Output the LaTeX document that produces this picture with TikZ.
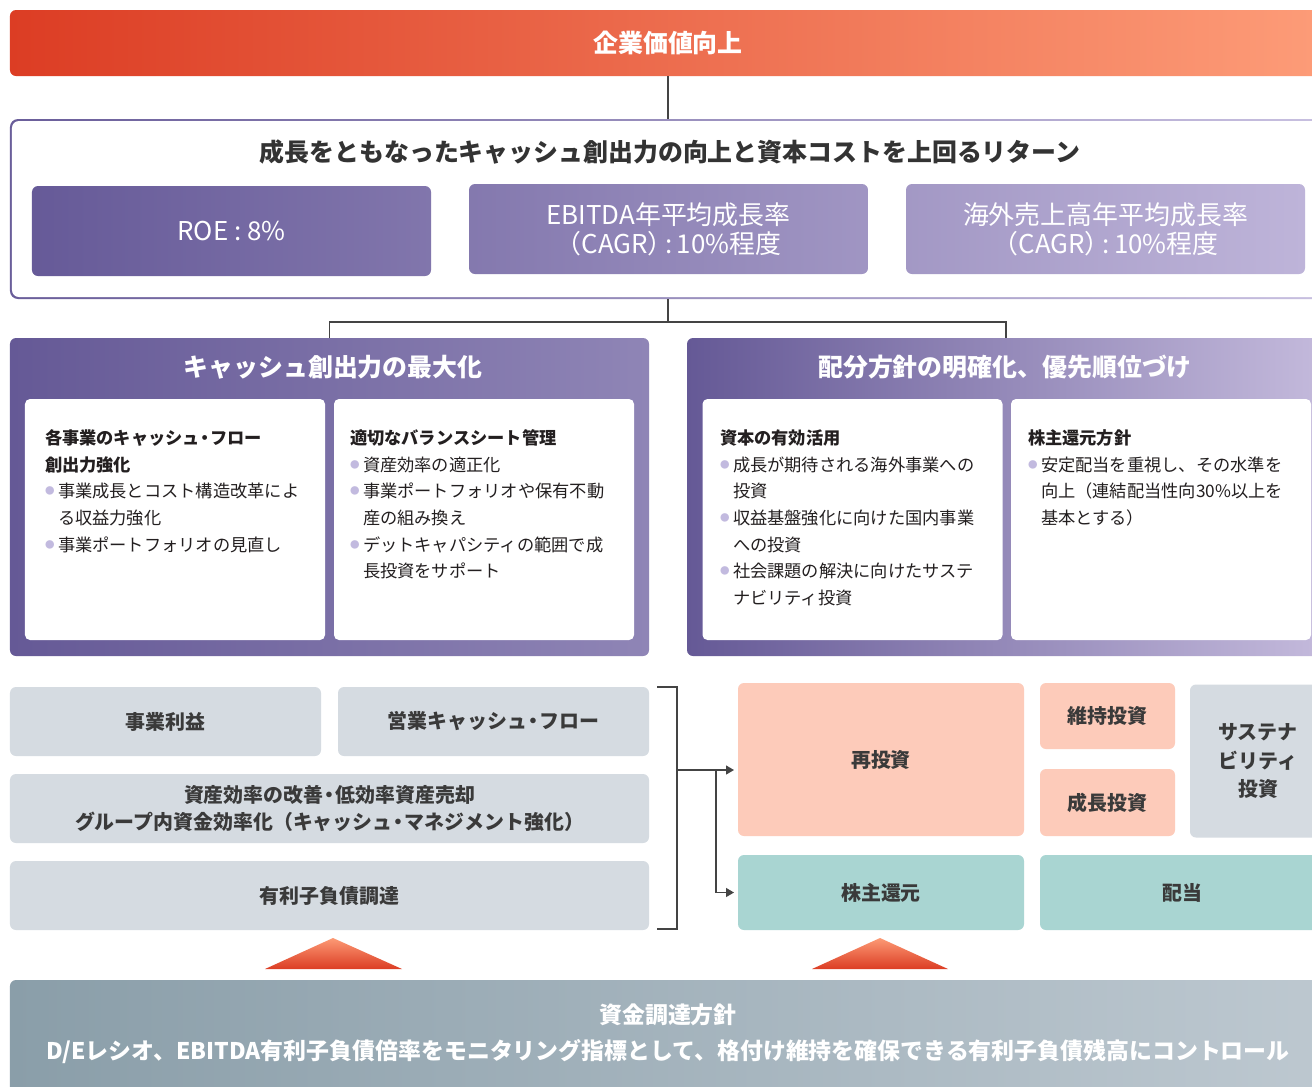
\documentclass[tikz,border=0pt]{standalone}
\usepackage{fontspec}
\setmainfont{Noto Sans CJK JP}
\usetikzlibrary{arrows.meta}
\definecolor{topL}{HTML}{DC3D24}
\definecolor{topR}{HTML}{FD9C78}
\definecolor{pA}{HTML}{655996}
\definecolor{pLr}{HTML}{8F85B6}
\definecolor{pRr}{HTML}{C4BADC}
\definecolor{kA}{HTML}{665A98}
\definecolor{kB}{HTML}{BEB4D9}
\colorlet{k1R}{kB!31!kA}
\colorlet{k2L}{kB!34!kA}
\colorlet{k2R}{kB!66!kA}
\colorlet{k3L}{kB!69!kA}
\definecolor{obL}{HTML}{6A5E9A}
\definecolor{obR}{HTML}{C8C0E0}
\definecolor{txtc}{HTML}{231F20}
\definecolor{gtxt}{HTML}{3A3A3A}
\definecolor{goalc}{HTML}{333333}
\definecolor{grayb}{HTML}{D5DBE1}
\definecolor{salm}{HTML}{FDCBBA}
\definecolor{teal}{HTML}{A9D5D2}
\definecolor{bulc}{HTML}{C2BADF}
\definecolor{fundL}{HTML}{8A9EA9}
\definecolor{fundR}{HTML}{BDC8D0}
\definecolor{triT}{HTML}{FC9A75}
\definecolor{triB}{HTML}{DC3D24}
\definecolor{connc}{HTML}{444444}
\newcommand\fz[2]{\fontsize{#1}{#2}\selectfont}
\newcommand\bu{\makebox[13bp][l]{\raisebox{0.17em}{\textcolor{bulc}{\scalebox{0.55}{●}}}}}
\newcommand\ind{\hspace*{13bp}}
\newcommand\firstl{\rule{0pt}{20bp}}
\newcommand\nakaguro{\kern-0.2em・\kern-0.2em}
\newcommand\cagr{（CAGR）\kern-0.3em:\kern0.15em 10\%程度}
\begin{document}
\begin{tikzpicture}[x=1bp,y=-1bp,
  every node/.style={inner sep=0pt, outer sep=0pt},
  rbox/.style 2 args={rectangle, rounded corners=6bp, minimum width=#1bp, minimum height=#2bp},
  wbox/.style={rbox={300}{241}, fill=white, rounded corners=5bp},
  gbox/.style={fill=grayb, text=gtxt, font=\fz{20}{27}\bfseries, align=center},
  sbox/.style={fill=salm, text=gtxt, font=\fz{20}{29}\bfseries, align=center},
  tbox/.style={fill=teal, text=gtxt, font=\fz{20}{27}\bfseries, align=center},
  txtblk/.style={anchor=north west, align=left, font=\fz{17.3}{26.7}, text=txtc},
  ptitle/.style={font=\fz{25}{30}\bfseries, text=white},
  kpi/.style={rbox={399}{90}, text=white, font=\fz{26}{29}, align=center},
  conn/.style={draw=connc, line width=1.2bp},
  arr/.style={-{Triangle[length=8bp,width=9bp]}, shorten >=4bp}
]
\useasboundingbox (0,0) rectangle (1312,1086);
\fill[white] (0,0) rectangle (1312,1086);
\clip (0,0) rectangle (1312,1086);

% top goal
\node[rbox={1316}{66}, left color=topL, right color=topR, text=white, font=\fz{25}{30}\bfseries] (top) at (668,43) {企業価値向上};

% outlined KPI frame
\node[rbox={1316}{180}, rounded corners=8bp, left color=obL, right color=obR] (outer) at (668,209) {};
\node[rbox={1312}{176}, rounded corners=7bp, fill=white] (outerin) at (668,209) {};
\node[font=\fz{25}{30}\bfseries, text=goalc] (goal) at (670,152) {成長をともなったキャッシュ創出力の向上と資本コストを上回るリターン};
\node[kpi, left color=kA, right color=k1R] (k1) at (231.5,231) {ROE : 8\%};
\node[kpi, left color=k2L, right color=k2R] (k2) at (668.5,229) {EBITDA年平均成長率\\\cagr};
\node[kpi, left color=k3L, right color=kB] (k3) at (1105.5,229) {海外売上高年平均成長率\\\cagr};

% panels
\node[rbox={639}{318}, left color=pA, right color=pLr] (lp) at (329.5,497) {};
\node[ptitle] (lpt) at (333,367) {キャッシュ創出力の最大化};
\node[rbox={638}{318}, left color=pA, right color=pRr] (rp) at (1006,497) {};
\node[ptitle] (rpt) at (1005,367) {配分方針の明確化、優先順位づけ};

\node[wbox] (la) at (175,519.5) {};
\node[wbox] (lb) at (484,519.5) {};
\node[wbox] (rc) at (852.5,519.5) {};
\node[wbox] (rd) at (1161,519.5) {};

\node[txtblk] (lat) at (45,424.6) {\firstl{\bfseries 各事業のキャッシュ\nakaguro フロー}\\{\bfseries 創出力強化}\\\bu 事業成長とコスト構造改革によ\\\ind る収益力強化\\\bu 事業ポートフォリオの見直し};
\node[txtblk] (lbt) at (350,424.6) {\firstl{\bfseries 適切なバランスシート管理}\\\bu 資産効率の適正化\\\bu 事業ポートフォリオや保有不動\\\ind 産の組み換え\\\bu デットキャパシティの範囲で成\\\ind 長投資をサポート};
\node[txtblk] (rct) at (720,424.6) {\firstl{\bfseries 資本の有効活用}\\\bu 成長が期待される海外事業への\\\ind 投資\\\bu 収益基盤強化に向けた国内事業\\\ind への投資\\\bu 社会課題の解決に向けたサステ\\\ind ナビリティ投資};
\node[txtblk] (rdt) at (1028,424.6) {\firstl{\bfseries 株主還元方針}\\\bu 安定配当を重視し、その水準を\\\ind 向上（連結配当性向30\%以上を\\\ind 基本とする）};

% connectors between levels
\draw[conn] (top.south) -- (outer.north);
\coordinate (split) at (668,322);
\draw[conn] (outer.south) -- (split);
\draw[conn] (lp.north) -- ++(0,-16) -| (rp.north);

% lower left sources
\node[rbox={311}{69}, gbox] (ji) at (165.5,721.5) {事業利益};
\node[rbox={311}{69}, gbox] (ecf) at (493.5,721.5) {営業キャッシュ\nakaguro フロー};
\node[rbox={639}{69}, gbox] (asset) at (329.5,808.5) {資産効率の改善\nakaguro 低効率資産売却\\グループ内資金効率化（キャッシュ\nakaguro マネジメント強化）};
\node[rbox={639}{69}, gbox] (debt) at (329.5,895.5) {有利子負債調達};

% lower right uses
\node[rbox={286}{153}, sbox] (reinv) at (881,759.5) {再投資};
\node[rbox={135}{66}, sbox] (maint) at (1107.5,716) {維持投資};
\node[rbox={135}{67}, sbox] (grow) at (1107.5,802.5) {成長投資};
\node[rbox={136}{153}, gbox, font=\fz{20}{29}\bfseries] (sust) at (1258,761) {サステナ\\ビリティ\\投資};
\node[rbox={286}{75}, tbox] (share) at (881,892.5) {株主還元};
\node[rbox={284}{75}, tbox] (div) at (1182,892.5) {配当};

% bracket and arrows
\coordinate (bt) at (657,687);
\coordinate (bb) at (657,929);
\coordinate (bm) at (677,770);
\coordinate (bj) at (716,770);
\draw[conn] (bt) -- (bt -| bm) -- (bb -| bm) -- (bb);
\draw[conn, arr] (bm) -- (bm -| reinv.west);
\draw[conn, arr] (bj) |- (share.west);

% triangles
\shade[top color=triT, bottom color=triB] (265,969) -- (333,938) -- (402,969) -- cycle;
\shade[top color=triT, bottom color=triB] (812,969) -- (880,938) -- (948,969) -- cycle;

% funding policy bar
\node[rbox={1316}{130}, left color=fundL, right color=fundR] (fund) at (668,1045) {};
\node[align=center, text=white, font=\fz{23}{36}\bfseries] (fundt) at (668,1034) {資金調達方針\\D/Eレシオ、EBITDA有利子負債倍率をモニタリング指標として、格付け維持を確保できる有利子負債残高にコントロール};
\end{tikzpicture}
\end{document}
